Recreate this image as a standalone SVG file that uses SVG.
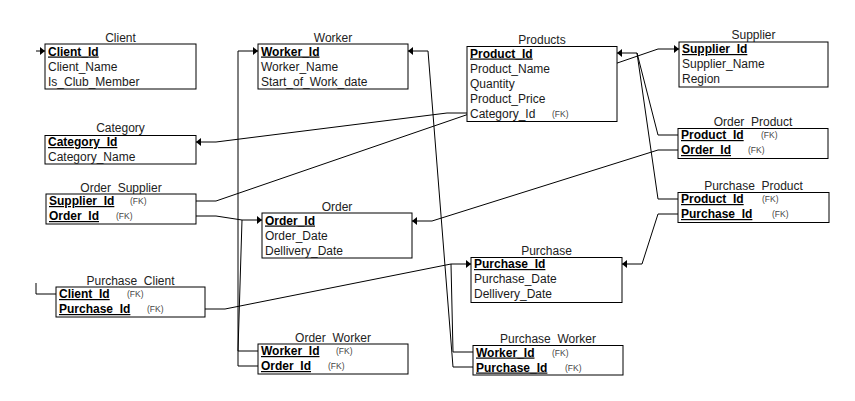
<svg xmlns="http://www.w3.org/2000/svg" width="855" height="401" viewBox="0 0 855 401">
<style>
  text { font-family: "Liberation Sans", Arial, sans-serif; fill: #1a1a1a; }
  .t { font-size: 12px; text-anchor: middle; fill: #222; }
  .f { font-size: 12px; }
  .k { font-size: 12px; font-weight: bold; text-decoration: underline; fill: #000; }
  .fk { font-size: 8.5px; fill: #444; }
  .box { fill: #fff; stroke: #000; stroke-width: 1; }
  .c { fill: none; stroke: #000; stroke-width: 1; }
  .a { marker-end: url(#arr); }
</style>
<defs>
  <marker id="arr" markerUnits="userSpaceOnUse" viewBox="0 0 5 8" refX="5" refY="4" markerWidth="5" markerHeight="8" orient="auto">
    <path d="M0,0 L5,4 L0,8 Z" fill="#000"/>
  </marker>
</defs>
<rect width="855" height="401" fill="#fff"/>
<g id="connectors">
  <path class="c a" d="M36,51 L45,51"/>
  <path class="c" d="M36,283 L36,294 L56,294"/>
  <path class="c a" d="M238,366 L258,366 M238,366 L238,51 L258,51"/>
  <path class="c a" d="M258,351 L238,351 L242,220 L262,220"/>
  <path class="c" d="M196,216 L216,216 L242,220"/>
  <path class="c a" d="M467,113 L447,113 L216,142 L196,142"/>
  <path class="c a" d="M196,201 L216,201 L658,49 L679,49"/>
  <path class="c a" d="M678,135 L658,135 L637,53 L617,53"/>
  <path class="c" d="M678,199 L658,199 L637,53"/>
  <path class="c a" d="M678,150 L658,150 L432,221 L412,221"/>
  <path class="c a" d="M678,214 L658,214 L642,264 L622,264"/>
  <path class="c a" d="M473,352 L453,352 L451,264 L471,264"/>
  <path class="c" d="M205,309 L225,309 L451,264"/>
  <path class="c a" d="M473,367 L453,367 L428,51 L408,51"/>
</g>
<g id="Client">
  <text class="t" x="120.5" y="41.5">Client</text>
  <rect class="box" x="45" y="44" width="151" height="45"/>
  <text class="k" x="48" y="55.5">Client_Id</text>
  <text class="f" x="48" y="70.5">Client_Name</text>
  <text class="f" x="48" y="85.5">Is_Club_Member</text>
</g>
<g id="Worker">
  <text class="t" x="333" y="41.5">Worker</text>
  <rect class="box" x="258" y="44" width="150" height="45"/>
  <text class="k" x="261" y="55.5">Worker_Id</text>
  <text class="f" x="261" y="70.5">Worker_Name</text>
  <text class="f" x="261" y="85.5">Start_of_Work_date</text>
</g>
<g id="Category">
  <text class="t" x="120.5" y="132">Category</text>
  <rect class="box" x="45" y="135.5" width="151" height="28.5"/>
  <text class="k" x="48" y="146">Category_Id</text>
  <text class="f" x="48" y="160.5">Category_Name</text>
</g>
<g id="Order_Supplier">
  <text class="t" x="121" y="191.5">Order_Supplier</text>
  <rect class="box" x="46" y="194" width="150" height="30"/>
  <text class="k" x="49" y="205">Supplier_Id</text>
  <text class="fk" x="130" y="204">(FK)</text>
  <text class="k" x="49" y="220">Order_Id</text>
  <text class="fk" x="116" y="219">(FK)</text>
</g>
<g id="Order">
  <text class="t" x="337" y="210.5">Order</text>
  <rect class="box" x="262" y="213" width="150" height="45"/>
  <text class="k" x="265" y="224.5">Order_Id</text>
  <text class="f" x="265" y="239.5">Order_Date</text>
  <text class="f" x="265" y="254.5">Dellivery_Date</text>
</g>
<g id="Purchase_Client">
  <text class="t" x="130.5" y="284.5">Purchase_Client</text>
  <rect class="box" x="56" y="287" width="149" height="30"/>
  <text class="k" x="59" y="298">Client_Id</text>
  <text class="fk" x="127" y="297">(FK)</text>
  <text class="k" x="59" y="313">Purchase_Id</text>
  <text class="fk" x="147" y="312">(FK)</text>
</g>
<g id="Order_Worker">
  <text class="t" x="333" y="341.5">Order_Worker</text>
  <rect class="box" x="258" y="344" width="150" height="30"/>
  <text class="k" x="261" y="355">Worker_Id</text>
  <text class="fk" x="336" y="354">(FK)</text>
  <text class="k" x="261" y="370">Order_Id</text>
  <text class="fk" x="328" y="369">(FK)</text>
</g>
<g id="Products">
  <text class="t" x="542" y="43.5">Products</text>
  <rect class="box" x="467" y="46.5" width="150" height="75"/>
  <text class="k" x="470" y="57.5">Product_Id</text>
  <text class="f" x="470" y="72.5">Product_Name</text>
  <text class="f" x="470" y="87.5">Quantity</text>
  <text class="f" x="470" y="102.5">Product_Price</text>
  <text class="f" x="470" y="117.5">Category_Id</text>
  <text class="fk" x="552" y="116.5">(FK)</text>
</g>
<g id="Supplier">
  <text class="t" x="753.5" y="39">Supplier</text>
  <rect class="box" x="679" y="42" width="149" height="45"/>
  <text class="k" x="682" y="53">Supplier_Id</text>
  <text class="f" x="682" y="68">Supplier_Name</text>
  <text class="f" x="682" y="83">Region</text>
</g>
<g id="Order_Product">
  <text class="t" x="753" y="125.5">Order_Product</text>
  <rect class="box" x="678" y="128.5" width="150" height="30"/>
  <text class="k" x="681" y="139">Product_Id</text>
  <text class="fk" x="761" y="138">(FK)</text>
  <text class="k" x="681" y="154">Order_Id</text>
  <text class="fk" x="748" y="153">(FK)</text>
</g>
<g id="Purchase_Product">
  <text class="t" x="753.5" y="189.5">Purchase_Product</text>
  <rect class="box" x="678" y="192.5" width="151" height="30"/>
  <text class="k" x="681" y="203">Product_Id</text>
  <text class="fk" x="762" y="202">(FK)</text>
  <text class="k" x="681" y="218">Purchase_Id</text>
  <text class="fk" x="772" y="217">(FK)</text>
</g>
<g id="Purchase">
  <text class="t" x="546.5" y="254.5">Purchase</text>
  <rect class="box" x="471" y="257.5" width="151" height="45"/>
  <text class="k" x="474" y="268">Purchase_Id</text>
  <text class="f" x="474" y="283">Purchase_Date</text>
  <text class="f" x="474" y="298">Dellivery_Date</text>
</g>
<g id="Purchase_Worker">
  <text class="t" x="548" y="343">Purchase_Worker</text>
  <rect class="box" x="473" y="345.5" width="150" height="29.5"/>
  <text class="k" x="476" y="356.5">Worker_Id</text>
  <text class="fk" x="552" y="355.5">(FK)</text>
  <text class="k" x="476" y="371.5">Purchase_Id</text>
  <text class="fk" x="565" y="370.5">(FK)</text>
</g>
</svg>
